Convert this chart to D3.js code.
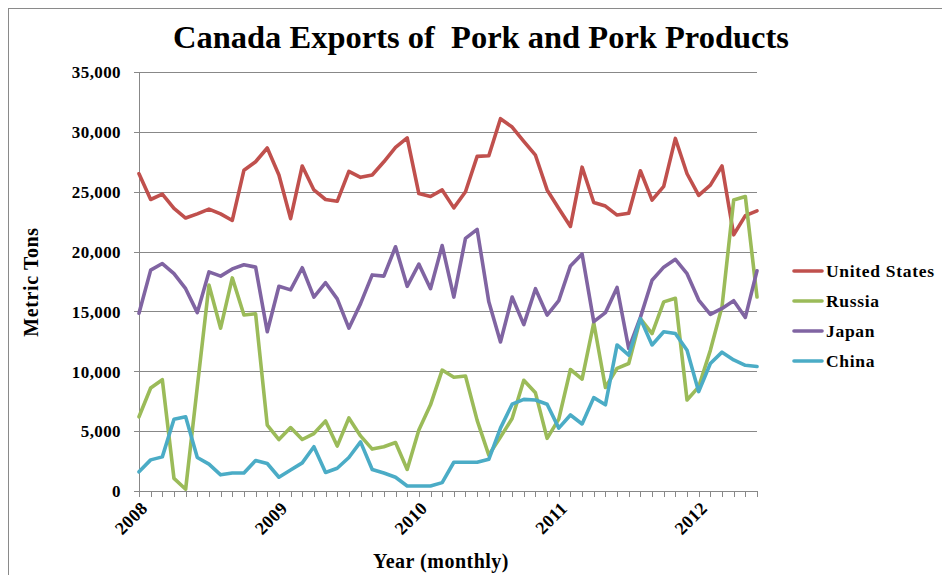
<!DOCTYPE html>
<html>
<head>
<meta charset="utf-8">
<script src="https://cdn.jsdelivr.net/npm/d3@7/dist/d3.min.js"></script>
<style>
  html, body { margin: 0; padding: 0; background: #fff; }
  svg { display: block; }
  text { font-family: "Liberation Serif", "Times New Roman", serif; font-weight: bold; fill: #000; }
</style>
</head>
<body>
<svg id="chart" width="942" height="575"></svg>
<script>
// ---- data ----
const years = ["2008", "2009", "2010", "2011", "2012"];
const monthsPerYear = 12;
const monthCount = 54; // Jan 2008 .. Jun 2012
const yTicks = [0, 5000, 10000, 15000, 20000, 25000, 30000, 35000];

const seriesNames = ["United States", "Russia", "Japan", "China"];
const seriesColors = ["#C0504D", "#9BBB59", "#8064A2", "#4BACC6"];

const unitedStates = [26500, 24350, 24800, 23600, 22800, 23150, 23550, 23150, 22600, 26800,
  27500, 28650, 26400, 22750, 27150, 25150, 24350, 24200, 26700, 26200,
  26400, 27500, 28700, 29500, 24850, 24600, 25150, 23650, 25000, 27950,
  28000, 31100, 30400, 29200, 28050, 25150, 23600, 22100, 27050, 24100,
  23800, 23050, 23200, 26750, 24300, 25450, 29450, 26500, 24700, 25550,
  27150, 21400, 23000, 23400];
const russia = [6200, 8600, 9300, 1050, 150, 8700, 17200, 13600, 17800, 14700,
  14800, 5500, 4300, 5300, 4300, 4800, 5850, 3750, 6100, 4600,
  3500, 3700, 4050, 1800, 5100, 7200, 10100, 9500, 9600, 5900,
  3000, 4500, 6050, 9250, 8200, 4400, 6000, 10150, 9350, 14050,
  8650, 10250, 10650, 14400, 13150, 15800, 16100, 7600, 8700, 11750,
  15400, 24300, 24600, 16200];
const japan = [14850, 18450, 19000, 18150, 16900, 14900, 18300, 17950, 18550, 18900,
  18700, 13300, 17100, 16800, 18650, 16200, 17400, 16050, 13600, 15650,
  18050, 17950, 20400, 17100, 18950, 16900, 20500, 16200, 21100, 21850,
  15800, 12450, 16200, 13900, 16900, 14700, 15900, 18800, 19800, 14150,
  14900, 17000, 11900, 14500, 17600, 18700, 19350, 18150, 15950, 14750,
  15250, 15900, 14500, 18400];
const china = [1600, 2600, 2850, 6000, 6200, 2800, 2250, 1350, 1500, 1500,
  2550, 2300, 1150, 1750, 2350, 3700, 1550, 1900, 2800, 4100,
  1800, 1500, 1150, 420, 420, 420, 700, 2400, 2400, 2400,
  2650, 5250, 7250, 7650, 7600, 7250, 5250, 6350, 5600, 7800,
  7200, 12200, 11350, 14400, 12200, 13300, 13150, 11750, 8300, 10650,
  11600, 10950, 10500, 10400];

const seriesValues = [unitedStates, russia, japan, china];

// categories: one per month
const categories = [];
for (let i = 0; i < monthCount; i++) {
  const y = years[Math.floor(i / monthsPerYear)];
  const m = (i % monthsPerYear) + 1;
  categories.push(y + "-" + (m < 10 ? "0" + m : m));
}

// ---- layout ----
const svg = d3.select("#chart");
const plot = { left: 139, right: 757, top: 72, bottom: 491 };
const gridColor = "#888888";

const x = d3.scalePoint().domain(categories).range([plot.left, plot.right]);
const y = d3.scaleLinear().domain([0, 35000]).range([plot.bottom, plot.top]);

// chart-area border (only top/left visible in frame)
svg.append("rect")
  .attr("x", 8.5).attr("y", 8.5)
  .attr("width", 2000).attr("height", 2000)
  .attr("fill", "none").attr("stroke", "#8a8a8a").attr("stroke-width", 1);

// title
svg.append("text")
  .attr("x", 481).attr("y", 48)
  .attr("text-anchor", "middle")
  .style("font-size", "31px")
  .style("white-space", "pre")
  .attr("textLength", 616).attr("lengthAdjust", "spacingAndGlyphs")
  .text("Canada Exports of  Pork and Pork Products");

// y gridlines + axis
const yAxis = d3.axisLeft(y)
  .tickValues(yTicks)
  .tickSize(plot.right - plot.left + 5)
  .tickPadding(13)
  .tickFormat(d3.format(","));
const gy = svg.append("g")
  .attr("transform", `translate(${plot.right},0)`)
  .call(yAxis);
gy.select(".domain").remove();
gy.selectAll(".tick line").attr("stroke", gridColor).attr("shape-rendering", "crispEdges");
gy.selectAll(".tick text")
  .style("font-size", "17px")
  .style("letter-spacing", "0.4px")
  .style("font-family", "'Liberation Serif', serif")
  .style("font-weight", "bold")
  .attr("dy", "0.34em");

// y axis line
svg.append("line")
  .attr("x1", plot.left + 0.5).attr("x2", plot.left + 0.5)
  .attr("y1", plot.top).attr("y2", plot.bottom)
  .attr("stroke", gridColor).attr("shape-rendering", "crispEdges");

// x axis
const xAxis = d3.axisBottom(x)
  .tickSize(6)
  .tickFormat(() => "");
const gx = svg.append("g")
  .attr("transform", `translate(0,${plot.bottom})`)
  .call(xAxis);
gx.select(".domain").attr("stroke", gridColor).attr("d", `M${plot.left},0.5H${plot.right}`);
gx.selectAll(".tick line").attr("stroke", gridColor).attr("shape-rendering", "crispEdges");

// year labels, every 12 months
const yearLabels = svg.append("g");
years.forEach((yr, k) => {
  const cx = x(categories[k * monthsPerYear]);
  yearLabels.append("text")
    .attr("transform", `translate(${cx},${plot.bottom + 9}) rotate(-45)`)
    .attr("text-anchor", "end")
    .attr("dy", "0.75em")
    .style("font-size", "18px")
    .style("letter-spacing", "0.3px")
    .text(yr);
});

// axis titles
svg.append("text")
  .attr("x", 441).attr("y", 568)
  .attr("text-anchor", "middle")
  .style("font-size", "20px")
  .style("letter-spacing", "0.5px")
  .text("Year (monthly)");

svg.append("text")
  .attr("transform", "translate(38,282) rotate(-90)")
  .attr("text-anchor", "middle")
  .style("font-size", "20px")
  .style("letter-spacing", "0.6px")
  .text("Metric Tons");

// lines
const line = d3.line()
  .x((d, i) => x(categories[i]))
  .y(d => y(d));

seriesValues.forEach((vals, s) => {
  svg.append("path")
    .datum(vals)
    .attr("fill", "none")
    .attr("stroke", seriesColors[s])
    .attr("stroke-width", 3.6)
    .attr("stroke-linejoin", "round")
    .attr("stroke-linecap", "round")
    .attr("d", line);
});

// legend
const legend = svg.append("g");
const legendY = [271, 301, 331, 361];
seriesNames.forEach((name, s) => {
  legend.append("line")
    .attr("x1", 794).attr("x2", 822)
    .attr("y1", legendY[s]).attr("y2", legendY[s])
    .attr("stroke", seriesColors[s])
    .attr("stroke-width", 3.6)
    .attr("stroke-linecap", "round");
  legend.append("text")
    .attr("x", 826).attr("y", legendY[s] + 6)
    .style("font-size", "17.5px")
    .style("letter-spacing", "0.7px")
    .text(name);
});
</script>
</body>
</html>
